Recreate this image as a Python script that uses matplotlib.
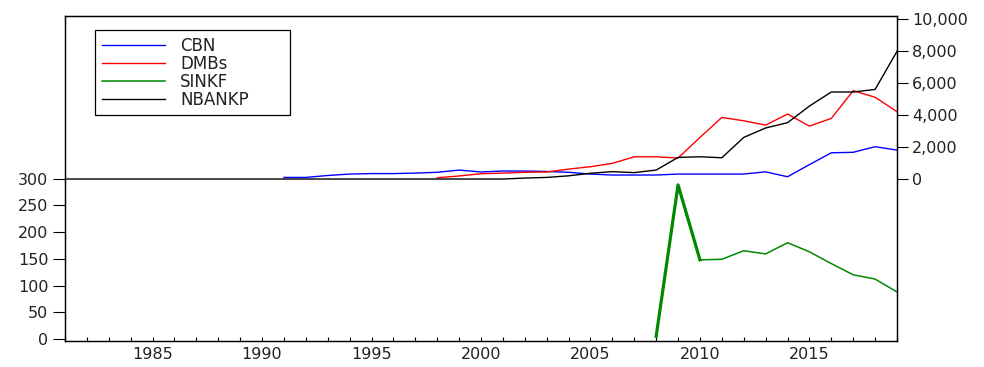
import matplotlib
matplotlib.use("Agg")
import matplotlib.pyplot as plt
import numpy as np
from matplotlib.ticker import FuncFormatter, MultipleLocator

plt.rcParams['font.family'] = ['DejaVu Sans']

# series values
cbn_years = list(range(1991, 2020))
cbn = [100, 100, 220, 310, 340, 340, 370, 420, 560, 440, 500, 500, 470, 420, 310,
       250, 250, 250, 310, 310, 310, 310, 450, 140, 900, 1640, 1670, 2020, 1810]

dmb_years = list(range(1998, 2020))
dmbs = [80, 190, 330, 370, 420, 440, 620, 770, 980, 1390, 1390, 1310, 2600, 3850,
        3640, 3370, 4060, 3310, 3790, 5520, 5110, 4210]

nbk_years = list(range(1981, 2020))
nbankp = [0] * 21 + [60, 100, 200, 360, 460, 400, 560, 1350, 1390, 1330, 2600,
                     3190, 3520, 4560, 5440, 5440, 5600, 7980]

sinkf_years = list(range(2008, 2020))
sinkf = [5, 288, 148, 149, 165, 159, 180, 163, 141, 120, 112, 88]

left_ticks = [0, 50, 100, 150, 200, 250, 300]
right_ticks = [0, 2000, 4000, 6000, 8000, 10000]
x_labels = [1985, 1990, 1995, 2000, 2005, 2010, 2015]

fig = plt.figure(figsize=(9.84, 3.67), dpi=100)
ax = fig.add_axes([65 / 984, 1 - 341 / 367, (897 - 65) / 984, (341 - 16) / 367])
ax2 = ax.twinx()

h3, = ax.plot(sinkf_years, sinkf, color='#008a00', lw=1.1)
# the steep jump is drawn heavier in the original
ax.plot(sinkf_years[:3], sinkf[:3], color='#008a00', lw=2.3)
h1, = ax2.plot(cbn_years, cbn, color='#0000ff', lw=1.0)
h2, = ax2.plot(dmb_years, dmbs, color='#ff0000', lw=1.0)
h4, = ax2.plot(nbk_years, nbankp, color='black', lw=1.0)

ax.set_xlim(1981, 2019)
ax.set_ylim(-3.7, 603.7)
ax2.set_ylim(-10125, 10190)

ax.set_yticks(left_ticks)
ax2.set_yticks(right_ticks)
ax2.yaxis.set_major_formatter(FuncFormatter(lambda v, p: '{:,.0f}'.format(v)))

ax.set_xticks(x_labels)
ax.xaxis.set_minor_locator(MultipleLocator(1))
ax.tick_params(axis='x', which='both', direction='in', length=3, width=0.8,
               labelsize=11.5, pad=4, labelcolor='#222222')
ax.tick_params(axis='y', direction='out', length=9, width=0.8, labelsize=11.5,
               pad=3, labelcolor='#222222')
ax2.tick_params(axis='y', direction='out', length=8, width=0.8, labelsize=11.5,
                pad=3, labelcolor='#222222')

for a in (ax, ax2):
    for s in a.spines.values():
        s.set_linewidth(0.9)

# legend box spans roughly x 95..290 px in the original
leg = ax2.legend([h1, h2, h3, h4], ['CBN', 'DMBs', 'SINKF', 'NBANKP'],
                 loc='upper left', bbox_to_anchor=(0.036, 0.70, 0.234, 0.257),
                 mode='expand', prop={'size': 12}, frameon=True, fancybox=False,
                 framealpha=1, edgecolor='black', handlelength=3.8,
                 handletextpad=0.9, labelspacing=0.0, borderpad=0.4,
                 borderaxespad=0)
leg.get_frame().set_linewidth(0.9)
for t in leg.get_texts():
    t.set_color('#222222')

fig.savefig('out.png', dpi=100)
